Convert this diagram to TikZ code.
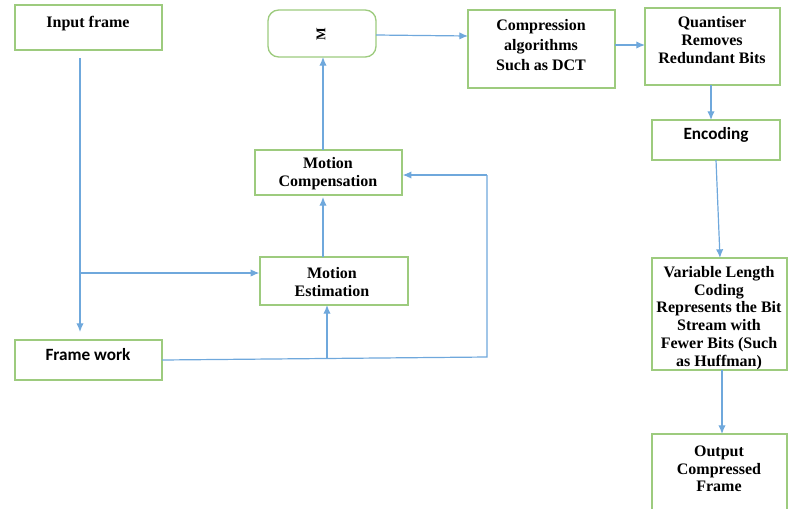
\documentclass[tikz,border=0pt]{standalone}
\usepackage{fontspec}
\setmainfont{Liberation Serif}
\newfontfamily\carfont{Carlito}
\usetikzlibrary{fit,arrows.meta}
\definecolor{boxgreen}{HTML}{9DCB7E}
\definecolor{arrblue}{HTML}{6FA8DC}
\begin{document}
\begin{tikzpicture}[x=0.75pt,y=-0.75pt,
  box/.style={draw=boxgreen,line width=1pt,inner sep=0pt,fill=white},
  txt/.style={font=\fontsize{12}{13.3}\selectfont\bfseries,align=center,inner sep=0pt},
  ctxt/.style={font=\carfont\fontsize{12.9}{14}\selectfont\bfseries,align=center,inner sep=0pt},
  conn/.style={draw=arrblue,line width=0.9pt},
  arr/.style={conn,-{Latex[length=6.5pt,width=5.5pt]}}]
\path[use as bounding box] (0,0) rectangle (788,508);
% boxes
\node[box,fit={(15,5)(162,50)}] (inp) {};
\node[box,rounded corners=8pt,fit={(268,10)(376,57)}] (mbox) {};
\node[box,fit={(468,10)(615,88)}] (comp) {};
\node[box,fit={(645,8)(780,85)}] (quant) {};
\node[box,fit={(652,120)(780,160)}] (enc) {};
\node[box,fit={(255,150)(402,195)}] (mc) {};
\node[box,fit={(260,257)(408,305)}] (me) {};
\node[box,fit={(15,340)(162,380)}] (fw) {};
\node[box,fit={(652,258)(787,370)}] (vlc) {};
\node[box,fit={(652,434)(787,512)}] (out) {};
% texts
\node[txt] (tinp) at (88,24) {Input frame};
\node[txt,rotate=90,font=\fontsize{10}{12}\selectfont\bfseries] (tm) at (321,34) {M};
\node[txt,font=\fontsize{12}{15}\selectfont\bfseries] (tcomp) at (541,45) {Compression\\algorithms\\Such as DCT};
\node[txt] (tquant) at (712,40) {Quantiser\\Removes\\Redundant Bits};
\node[ctxt] (tenc) at (716,135) {Encoding};
\node[txt] (tmc) at (328,174) {Motion\\Compensation};
\node[txt] (tme) at (332,282) {Motion\\Estimation};
\node[ctxt] (tfw) at (88,355) {Frame work};
\node[txt] (tvlc) at (719,318) {Variable Length\\Coding\\Represents the Bit\\Stream with\\Fewer Bits (Such\\as Huffman)};
\node[txt] (tout) at (719,469) {Output\\Compressed\\Frame};
% helper coordinates
\coordinate (a1) at (80,58);
\coordinate (a2) at (80,332);
\coordinate (b1) at (80,273);
\coordinate (f0) at (162,360);
\coordinate (f1) at (487,357);
\coordinate (f2) at (487,175);
\coordinate (f3) at (327,358);
\coordinate (me1) at (327,305);
\coordinate (mc2) at (323,150);
\coordinate (m1) at (323,57);
\coordinate (mr) at (376,35);
\coordinate (cl) at (468,36);
\coordinate (cr) at (615,45);
\coordinate (ql) at (645,45);
\coordinate (qb) at (711,85);
\coordinate (et) at (711,120);
\coordinate (eb) at (716,160);
\coordinate (vt) at (720,258);
\coordinate (vb) at (722,370);
\coordinate (ot) at (722,434);
\coordinate (meb) at (323,257);
\coordinate (mcb) at (323,197);
% connectors
\draw[arr] (a1) -- (a2);
\draw[arr] (b1) -- (me.west |- b1);
\draw[conn] (f0) -- (f1) -- (f2);
\draw[arr] (f2) -- (mc.east |- f2);
\draw[arr] (f3) -- (me1);
\draw[arr] (meb) -- (mcb);
\draw[arr] (mc2) -- (m1);
\draw[arr] (mr) -- (cl);
\draw[arr] (cr) -- (ql);
\draw[arr] (qb) -- (et);
\draw[arr] (eb) -- (vt);
\draw[arr] (vb) -- (ot);
\end{tikzpicture}
\end{document}
